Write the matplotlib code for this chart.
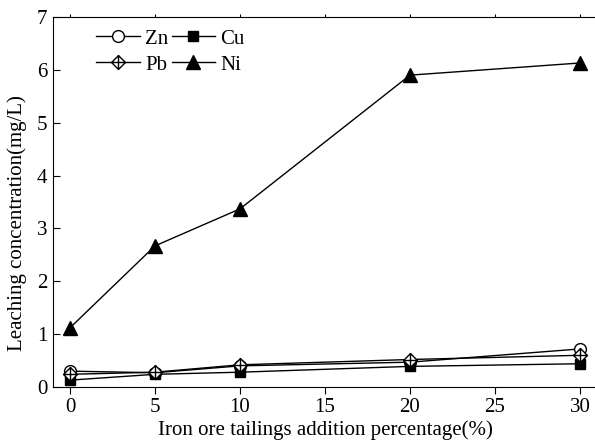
import matplotlib
matplotlib.use("Agg")
import matplotlib.pyplot as plt
from matplotlib.path import Path
from matplotlib.markers import MarkerStyle

plt.rcParams["font.family"] = ["Liberation Serif", "DejaVu Serif"]

# Iron ore tailings addition (%)
pct = [0, 5, 10, 20, 30]

# Leaching concentration (mg/L)
zn = [0.30, 0.27, 0.40, 0.47, 0.72]
cu = [0.13, 0.24, 0.28, 0.39, 0.44]
pb = [0.24, 0.28, 0.42, 0.52, 0.60]
ni = [1.12, 2.67, 3.37, 5.90, 6.13]

# diamond with a cross inside
verts = [(0, 1), (1, 0), (0, -1), (-1, 0), (0, 1),
         (0, 1), (0, -1), (-1, 0), (1, 0)]
codes = [Path.MOVETO, Path.LINETO, Path.LINETO, Path.LINETO, Path.CLOSEPOLY,
         Path.MOVETO, Path.LINETO, Path.MOVETO, Path.LINETO]
diamond_cross = MarkerStyle(Path(verts, codes))

fig = plt.figure(figsize=(5.95, 4.43), dpi=100)
ax = fig.add_axes([53 / 595, 56 / 443, 544 / 595, 370 / 443])

kw = dict(color="black", lw=1.0, markeredgecolor="black")
h_zn, = ax.plot(pct, zn, marker="o", ms=8.5, mfc="white", label="Zn", **kw)
h_cu, = ax.plot(pct, cu, marker="s", ms=7.5, mfc="black", label="Cu", **kw)
h_pb, = ax.plot(pct, pb, marker=diamond_cross, ms=10, mfc="white", mew=1.0, label="Pb", **kw)
h_ni, = ax.plot(pct, ni, marker="^", ms=10, mfc="black", label="Ni", **kw)

ax.set_xlim(-1, 31)
ax.set_ylim(0, 7)
ax.set_xticks([0, 5, 10, 15, 20, 25, 30])
ax.set_yticks(range(0, 8))

ax.tick_params(axis="x", direction="out", length=5, labelsize=15, pad=3)
ax.tick_params(axis="y", direction="in", length=5, labelsize=15, pad=4)
ax.xaxis.set_ticks_position("both")
for t in ax.xaxis.get_major_ticks():
    t.tick2line.set_markersize(2)

ax.set_xlabel("Iron ore tailings addition percentage(%)", fontsize=15, labelpad=2)
ax.set_ylabel("Leaching concentration(mg/L)", fontsize=15)
ax.yaxis.set_label_coords(-0.048, 0.443)

# row-wise order: Zn Cu / Pb Ni
ax.legend([h_zn, h_pb, h_cu, h_ni], ["Zn", "Pb", "Cu", "Ni"],
          ncol=2, frameon=False, fontsize=15, loc="upper left",
          bbox_to_anchor=(0.045, 1.018), handlelength=2.1, columnspacing=0.15,
          handletextpad=0.25, labelspacing=0.3)

fig.savefig("out.png", dpi=100)
